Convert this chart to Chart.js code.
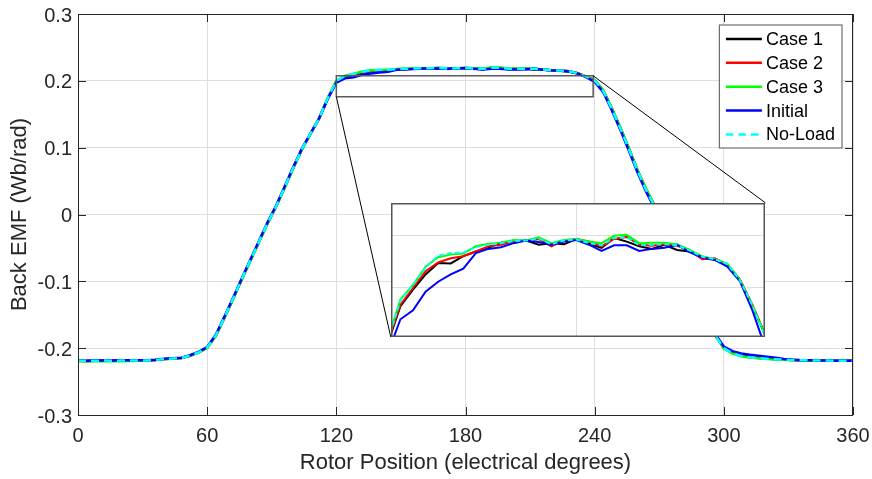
<!DOCTYPE html>
<html lang="en">
<head>
<meta charset="UTF-8" />
<title>Back EMF</title>
<script src="https://cdn.jsdelivr.net/npm/chart.js"></script>
<style>
  * { margin: 0; padding: 0; box-sizing: border-box; }
  body { background: #fff; width: 872px; height: 479px; overflow: hidden; }
  .wrap { position: relative; width: 872px; height: 479px; }
  .inset { position: absolute; background: #fff; }
  .inset canvas { display: block; }
</style>
</head>
<body>
<div class="wrap">
  <canvas id="mainChart" width="872" height="479"></canvas>
  <div class="inset" id="insetBox"><canvas id="insetChart"></canvas></div>
</div>
<script>
// rotor position, electrical degrees
const angles = [
  0, 4, 8, 12, 16, 20, 24, 28, 32, 36, 40, 44, 48, 52, 56, 60, 64, 68, 72, 76,
  80, 84, 88, 92, 96, 100, 104, 108, 112, 116, 120, 124, 128, 132, 136, 140, 144, 148, 152, 156,
  160, 164, 168, 172, 176, 180, 184, 188, 192, 196, 200, 204, 208, 212, 216, 220, 224, 228, 232, 236,
  240, 244, 248, 252, 256, 260, 264, 268, 272, 276, 280, 284, 288, 292, 296, 300, 304, 308, 312, 316,
  320, 324, 328, 332, 336, 340, 344, 348, 352, 356, 360
];

const case1 = [
  -0.2190, -0.2191, -0.2189, -0.2188, -0.2189, -0.2187, -0.2185, -0.2186, -0.2184, -0.2177,
  -0.2164, -0.2156, -0.2147, -0.2113, -0.2063, -0.1992, -0.1813, -0.1543, -0.1263, -0.0973,
  -0.0693, -0.0413, -0.0133, 0.0117, 0.0407, 0.0697, 0.0977, 0.1208, 0.1438, 0.1738,
  0.1992,
  0.2063, 0.2095, 0.2124, 0.2146, 0.2145, 0.2159, 0.2168, 0.2175, 0.2185, 0.2187,
  0.2189, 0.2181, 0.2184, 0.2182, 0.2192, 0.2183, 0.2175, 0.2194, 0.2187, 0.2178,
  0.2173, 0.2181, 0.2171, 0.2168, 0.2155, 0.2152, 0.2143, 0.2114, 0.2063, 0.2009,
  0.1854, 0.1580, 0.1290, 0.0976, 0.0651, 0.0366, 0.0116, -0.0164, -0.0444, -0.0714,
  -0.0994, -0.1274, -0.1544, -0.1806, -0.1995, -0.2070, -0.2110, -0.2130, -0.2145, -0.2155,
  -0.2164, -0.2171, -0.2177, -0.2181, -0.2183, -0.2185, -0.2186, -0.2187, -0.2188, -0.2190
];

const case2 = [
  -0.2191, -0.2191, -0.2190, -0.2189, -0.2190, -0.2188, -0.2186, -0.2186, -0.2184, -0.2177,
  -0.2164, -0.2156, -0.2147, -0.2114, -0.2064, -0.1993, -0.1815, -0.1545, -0.1265, -0.0975,
  -0.0695, -0.0415, -0.0135, 0.0115, 0.0405, 0.0695, 0.0975, 0.1207, 0.1437, 0.1737,
  0.1995,
  0.2066, 0.2098, 0.2130, 0.2147, 0.2155, 0.2159, 0.2168, 0.2178, 0.2181, 0.2187,
  0.2189, 0.2192, 0.2178, 0.2189, 0.2192, 0.2187, 0.2178, 0.2192, 0.2196, 0.2181,
  0.2179, 0.2182, 0.2179, 0.2171, 0.2153, 0.2155, 0.2143, 0.2114, 0.2066, 0.2009,
  0.1856, 0.1582, 0.1292, 0.0978, 0.0653, 0.0368, 0.0118, -0.0162, -0.0442, -0.0712,
  -0.0992, -0.1272, -0.1542, -0.1805, -0.1998, -0.2072, -0.2112, -0.2132, -0.2146, -0.2156,
  -0.2165, -0.2171, -0.2177, -0.2181, -0.2183, -0.2185, -0.2186, -0.2187, -0.2188, -0.2190
];

const case3 = [
  -0.2192, -0.2194, -0.2195, -0.2197, -0.2197, -0.2194, -0.2192, -0.2190, -0.2186, -0.2178,
  -0.2166, -0.2158, -0.2149, -0.2116, -0.2066, -0.1995, -0.1818, -0.1548, -0.1268, -0.0978,
  -0.0698, -0.0418, -0.0138, 0.0112, 0.0402, 0.0692, 0.0972, 0.1205, 0.1436, 0.1738,
  0.2000,
  0.2076, 0.2104, 0.2139, 0.2157, 0.2162, 0.2164, 0.2178, 0.2183, 0.2185, 0.2190,
  0.2189, 0.2195, 0.2184, 0.2190, 0.2192, 0.2187, 0.2184, 0.2198, 0.2200, 0.2184,
  0.2185, 0.2185, 0.2182, 0.2171, 0.2159, 0.2153, 0.2145, 0.2114, 0.2063, 0.2009,
  0.1858, 0.1585, 0.1295, 0.0982, 0.0657, 0.0372, 0.0122, -0.0158, -0.0438, -0.0708,
  -0.0988, -0.1268, -0.1538, -0.1802, -0.2005, -0.2080, -0.2120, -0.2140, -0.2152, -0.2161,
  -0.2169, -0.2175, -0.2180, -0.2183, -0.2185, -0.2186, -0.2187, -0.2188, -0.2189, -0.2190
];

const initial = [
  -0.2188, -0.2187, -0.2185, -0.2183, -0.2184, -0.2182, -0.2181, -0.2182, -0.2180, -0.2173,
  -0.2160, -0.2152, -0.2142, -0.2106, -0.2055, -0.1982, -0.1800, -0.1530, -0.1250, -0.0960,
  -0.0680, -0.0400, -0.0120, 0.0130, 0.0420, 0.0710, 0.0985, 0.1212, 0.1440, 0.1730,
  0.1973,
  0.2038, 0.2055, 0.2091, 0.2110, 0.2124, 0.2135, 0.2165, 0.2173, 0.2176, 0.2184,
  0.2189, 0.2186, 0.2181, 0.2187, 0.2190, 0.2181, 0.2169, 0.2180, 0.2180, 0.2169,
  0.2173, 0.2175, 0.2181, 0.2167, 0.2157, 0.2152, 0.2139, 0.2111, 0.2055, 0.1985,
  0.1830, 0.1555, 0.1262, 0.0945, 0.0620, 0.0335, 0.0085, -0.0195, -0.0475, -0.0745,
  -0.1025, -0.1305, -0.1570, -0.1790, -0.1975, -0.2045, -0.2080, -0.2100, -0.2115, -0.2128,
  -0.2145, -0.2163, -0.2173, -0.2179, -0.2182, -0.2184, -0.2186, -0.2187, -0.2188, -0.2189
];

const noLoad = [
  -0.2190, -0.2190, -0.2188, -0.2186, -0.2188, -0.2186, -0.2184, -0.2185, -0.2183, -0.2176,
  -0.2163, -0.2155, -0.2146, -0.2112, -0.2062, -0.1990, -0.1810, -0.1540, -0.1260, -0.0970,
  -0.0690, -0.0410, -0.0130, 0.0120, 0.0410, 0.0700, 0.0980, 0.1210, 0.1440, 0.1740,
  0.1998,
  0.2074, 0.2104, 0.2137, 0.2160, 0.2165, 0.2166, 0.2176, 0.2181, 0.2184, 0.2188,
  0.2189, 0.2193, 0.2182, 0.2189, 0.2191, 0.2184, 0.2180, 0.2194, 0.2195, 0.2180,
  0.2181, 0.2182, 0.2180, 0.2170, 0.2158, 0.2153, 0.2144, 0.2113, 0.2065, 0.2005,
  0.1850, 0.1575, 0.1285, 0.0970, 0.0645, 0.0360, 0.0110, -0.0170, -0.0450, -0.0720,
  -0.1000, -0.1280, -0.1550, -0.1810, -0.2000, -0.2075, -0.2115, -0.2135, -0.2148, -0.2158,
  -0.2166, -0.2172, -0.2178, -0.2181, -0.2183, -0.2185, -0.2186, -0.2187, -0.2188, -0.2190
];

const seriesNames = ["Case 1", "Case 2", "Case 3", "Initial", "No-Load"];
const xTicks = [0, 60, 120, 180, 240, 300, 360];
const yTicks = [-0.3, -0.2, -0.1, 0, 0.1, 0.2, 0.3];
const yTickLabels = ["-0.3", "-0.2", "-0.1", "0", "0.1", "0.2", "0.3"];

// zoomed region and where its magnified copy sits (main-axis units)
const zoomX = [120, 239.3];
const zoomY = [0.1762, 0.2076];
const insetAtX = [145.3, 319.3];
const insetAtY = [-0.1835, 0.0175];
const insetX = [121, 240];
const insetY = [0.2004, 0.2261];
const insetXTicks = [180];
const insetYTicks = [0.21, 0.22];

const FONT = "'Liberation Sans', Arial, Helvetica, sans-serif";
const AXIS = "#262626";
const GRID = "#dedede";

const styles = [
  { color: "#000000", dash: [] },
  { color: "#ff0000", dash: [] },
  { color: "#00ff00", dash: [] },
  { color: "#0000ff", dash: [] },
  { color: "#00ffff", dash: [8, 5] },
];
const allSeries = [case1, case2, case3, initial, noLoad];

function makeDatasets(width, dashScale) {
  return allSeries.map((vals, i) => ({
    label: seriesNames[i],
    data: angles.map((a, k) => ({ x: a, y: vals[k] })),
    borderColor: styles[i].color,
    borderWidth: width,
    borderDash: styles[i].dash.map((d) => d * dashScale),
    pointRadius: 0,
    tension: 0,
    fill: false,
    order: allSeries.length - i,
    clip: 0,
  }));
}

const framePlugin = {
  id: "frame",
  afterDatasetsDraw(chart) {
    const { ctx, chartArea: ca, scales } = chart;
    const sx = scales.x, sy = scales.y;
    ctx.save();
    // axes box
    ctx.strokeStyle = AXIS;
    ctx.lineWidth = 1;
    ctx.strokeRect(ca.left + 0.5, ca.top + 0.5, ca.right - ca.left - 1, ca.bottom - ca.top);
    // inward ticks on all four sides
    const tl = 8;
    ctx.beginPath();
    xTicks.forEach((v) => {
      const p = Math.round(sx.getPixelForValue(v)) + 0.5;
      ctx.moveTo(p, ca.bottom); ctx.lineTo(p, ca.bottom - tl);
      ctx.moveTo(p, ca.top); ctx.lineTo(p, ca.top + tl);
    });
    yTicks.forEach((v) => {
      const p = Math.round(sy.getPixelForValue(v)) + 0.5;
      ctx.moveTo(ca.left, p); ctx.lineTo(ca.left + tl, p);
      ctx.moveTo(ca.right, p); ctx.lineTo(ca.right - tl, p);
    });
    ctx.stroke();

    // zoom rectangle
    const rx0 = sx.getPixelForValue(zoomX[0]), rx1 = sx.getPixelForValue(zoomX[1]);
    const ry0 = sy.getPixelForValue(zoomY[0]), ry1 = sy.getPixelForValue(zoomY[1]);
    ctx.strokeStyle = "#5a5a5a";
    ctx.lineWidth = 1.5;
    ctx.strokeRect(rx0, ry1, rx1 - rx0, ry0 - ry1);

    // connector lines to the inset
    const ix0 = sx.getPixelForValue(insetAtX[0]), ix1 = sx.getPixelForValue(insetAtX[1]);
    const iy0 = sy.getPixelForValue(insetAtY[0]), iy1 = sy.getPixelForValue(insetAtY[1]);
    ctx.strokeStyle = "#000";
    ctx.lineWidth = 1;
    ctx.beginPath();
    ctx.moveTo(rx0, ry0); ctx.lineTo(ix0, iy0);
    ctx.moveTo(rx1, ry1); ctx.lineTo(ix1, iy1);
    ctx.stroke();

    // legend
    const lw = 122.6, lh = 123;
    const lx = ca.right - 11 - lw, ly = ca.top + 11;
    ctx.fillStyle = "#fff";
    ctx.fillRect(lx, ly, lw, lh);
    ctx.strokeStyle = "#6e6e6e";
    ctx.lineWidth = 1.2;
    ctx.strokeRect(lx, ly, lw, lh);
    ctx.font = "18px " + FONT;
    ctx.textBaseline = "middle";
    ctx.textAlign = "left";
    chart.data.datasets.forEach((ds, i) => {
      const yy = ly + 14 + i * 23.85;
      ctx.strokeStyle = ds.borderColor;
      ctx.lineWidth = 2.5;
      ctx.setLineDash(ds.borderDash.length ? [7.5, 5] : []);
      ctx.beginPath();
      ctx.moveTo(lx + 6.5, yy); ctx.lineTo(lx + 42.5, yy);
      ctx.stroke();
      ctx.setLineDash([]);
      ctx.fillStyle = "#000";
      ctx.fillText(ds.label, lx + 46.5, yy + 1);
    });
    ctx.restore();
  },
};

const mainChart = new Chart(document.getElementById("mainChart"), {
  type: "line",
  data: { datasets: makeDatasets(2.5, 1) },
  plugins: [framePlugin],
  options: {
    responsive: false,
    animation: false,
    layout: { padding: { top: 14, right: 19, left: 0, bottom: 0 } },
    plugins: { legend: { display: false }, tooltip: { enabled: false } },
    scales: {
      x: {
        type: "linear",
        min: 0,
        max: 360,
        afterBuildTicks: (s) => { s.ticks = xTicks.map((v) => ({ value: v })); },
        afterFit: (s) => { s.height = 64; s.paddingLeft = 0; s.paddingRight = 0; },
        grid: { color: GRID, drawTicks: false },
        border: { display: false },
        ticks: {
          padding: 9,
          color: AXIS,
          font: { family: FONT, size: 20 },
          callback: (v) => String(v),
        },
        title: {
          display: true,
          text: "Rotor Position (electrical degrees)",
          color: AXIS,
          font: { family: FONT, size: 22 },
          padding: { top: 0, bottom: 3 },
        },
      },
      y: {
        type: "linear",
        min: -0.3,
        max: 0.3,
        afterBuildTicks: (s) => { s.ticks = yTicks.map((v) => ({ value: v })); },
        afterFit: (s) => { s.width = 78; s.paddingTop = 0; s.paddingBottom = 0; },
        grid: { color: GRID, drawTicks: false },
        border: { display: false },
        ticks: {
          padding: 6,
          labelOffset: 2,
          color: AXIS,
          font: { family: FONT, size: 20 },
          callback: (v) => yTickLabels[yTicks.findIndex((t) => Math.abs(t - v) < 1e-9)],
        },
        title: {
          display: true,
          text: "Back EMF (Wb/rad)",
          color: AXIS,
          font: { family: FONT, size: 22 },
          padding: { top: 7, bottom: 0 },
        },
      },
    },
  },
});

// place the magnified copy over the main axes
const sx = mainChart.scales.x, sy = mainChart.scales.y;
const boxL = Math.round(sx.getPixelForValue(insetAtX[0]));
const boxR = Math.round(sx.getPixelForValue(insetAtX[1]));
const boxT = Math.round(sy.getPixelForValue(insetAtY[1]));
const boxB = Math.round(sy.getPixelForValue(insetAtY[0]));
const box = document.getElementById("insetBox");
box.style.left = boxL + "px";
box.style.top = boxT + "px";
box.style.width = boxR - boxL + "px";
box.style.height = boxB - boxT + "px";
const insetCanvas = document.getElementById("insetChart");
insetCanvas.width = boxR - boxL;
insetCanvas.height = boxB - boxT;

const insetFrame = {
  id: "insetFrame",
  beforeDatasetsDraw(chart) {
    const { ctx, chartArea: ca, scales } = chart;
    ctx.save();
    ctx.strokeStyle = GRID;
    ctx.lineWidth = 1;
    ctx.beginPath();
    insetXTicks.forEach((v) => {
      const p = Math.round(scales.x.getPixelForValue(v)) + 0.5;
      ctx.moveTo(p, ca.top); ctx.lineTo(p, ca.bottom);
    });
    insetYTicks.forEach((v) => {
      const p = Math.round(scales.y.getPixelForValue(v)) + 0.5;
      ctx.moveTo(ca.left, p); ctx.lineTo(ca.right, p);
    });
    ctx.stroke();
    ctx.restore();
  },
  afterDraw(chart) {
    const { ctx, width, height } = chart;
    ctx.save();
    ctx.strokeStyle = "#555";
    ctx.lineWidth = 1.5;
    ctx.strokeRect(0.75, 0.75, width - 1.5, height - 1.5);
    ctx.restore();
  },
};

new Chart(insetCanvas, {
  type: "line",
  data: { datasets: makeDatasets(2, 0.6) },
  plugins: [insetFrame],
  options: {
    responsive: false,
    animation: false,
    layout: { padding: 0 },
    plugins: { legend: { display: false }, tooltip: { enabled: false } },
    scales: {
      x: { type: "linear", min: insetX[0], max: insetX[1], display: false },
      y: { type: "linear", min: insetY[0], max: insetY[1], display: false },
    },
  },
});
</script>
</body>
</html>
